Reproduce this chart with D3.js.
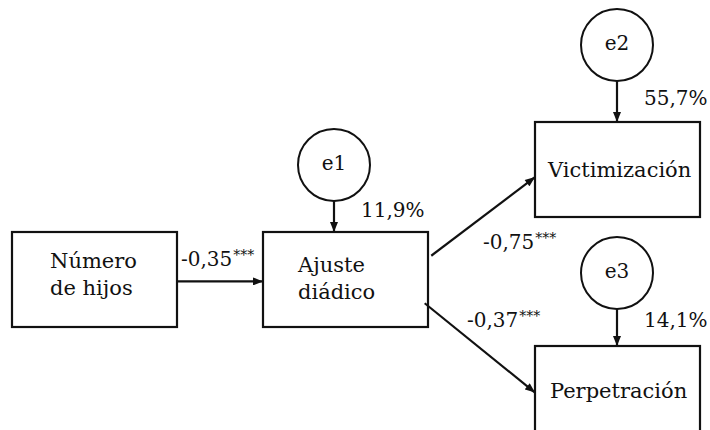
<!DOCTYPE html>
<html>
<head>
<meta charset="utf-8">
<script src="https://cdn.jsdelivr.net/npm/d3@7"></script>
<style>
  body { margin: 0; background: #fff; }
  text { font-family: "DejaVu Serif", serif; fill: #111; }
</style>
</head>
<body>
<div id="chart"></div>
<script>
// observed variables (box label lines)
var variables = ["numero", "ajuste", "victim", "perpet"];
var varLabels = [["Número", "de hijos"], ["Ajuste", "diádico"], ["Victimización"], ["Perpetración"]];

// structural paths: from, to, standardised coefficient, significance
var pathFrom = ["numero", "ajuste", "ajuste"];
var pathTo = ["ajuste", "victim", "perpet"];
var pathCoef = ["-0,35", "-0,75", "-0,37"];
var pathSig = ["***", "***", "***"];

// error terms and explained variance
var errors = ["e1", "e2", "e3"];
var errorTarget = ["ajuste", "victim", "perpet"];
var r2 = ["11,9%", "55,7%", "14,1%"];

var width = 710, height = 430;

// layout grid (column / row units) mapped through scales
var layout = {
  numero: {col: 0, row: 1},
  ajuste: {col: 1, row: 1},
  victim: {col: 2, row: 0},
  perpet: {col: 2, row: 2}
};
var x = d3.scaleLinear().domain([0, 1, 2]).range([12, 263, 535]);
var y = d3.scaleLinear().domain([0, 1, 2]).range([122, 232, 346]);
var boxW = 165, boxH = 95, errR = 36;

var svg = d3.select("#chart").append("svg").attr("width", width).attr("height", height);

svg.append("defs").append("marker")
  .attr("id", "arrow")
  .attr("viewBox", "0 0 10 8")
  .attr("refX", 10).attr("refY", 4)
  .attr("markerWidth", 11).attr("markerHeight", 8)
  .attr("markerUnits", "userSpaceOnUse")
  .attr("orient", "auto")
  .append("path").attr("d", "M0,0L10,4L0,8Z").attr("fill", "#111");

function box(id) {
  var l = layout[id];
  return {x: x(l.col), y: y(l.row), w: boxW, h: boxH};
}

// boxes
var nodes = svg.selectAll(".node").data(variables).enter().append("g").attr("class", "node");
nodes.append("rect")
  .attr("x", function(d) { return box(d).x; })
  .attr("y", function(d) { return box(d).y; })
  .attr("width", boxW).attr("height", boxH)
  .attr("fill", "#fff").attr("stroke", "#111").attr("stroke-width", 2.2);

var textOff = {numero: [38, 36], ajuste: [35, 40], victim: [13, 55], perpet: [15, 52]};
nodes.each(function(d, i) {
  var b = box(d), g = d3.select(this), lines = varLabels[i];
  lines.forEach(function(t, j) {
    g.append("text")
      .attr("x", b.x + textOff[d][0])
      .attr("y", b.y + textOff[d][1] + j * 27)
      .attr("font-size", 21)
      .text(t);
  });
});

// paths between boxes
var anchors = {
  "numero-ajuste": [[1, 0.52], [0, 0.52]],
  "ajuste-victim": [[1.02, 0.25], [0, 0.58]],
  "ajuste-perpet": [[0.98, 0.75], [0, 0.49]]
};
var labelPos = [[181, 266], [483, 249], [467, 327]];

pathFrom.forEach(function(f, i) {
  var a = box(f), b = box(pathTo[i]), an = anchors[f + "-" + pathTo[i]];
  svg.append("line")
    .attr("x1", a.x + an[0][0] * a.w).attr("y1", a.y + an[0][1] * a.h)
    .attr("x2", b.x + an[1][0] * b.w).attr("y2", b.y + an[1][1] * b.h)
    .attr("stroke", "#111").attr("stroke-width", 2.2)
    .attr("marker-end", "url(#arrow)");
  var t = svg.append("text")
    .attr("x", labelPos[i][0]).attr("y", labelPos[i][1])
    .attr("font-size", 20);
  t.append("tspan").text(pathCoef[i]);
  t.append("tspan").attr("font-size", 14).attr("dy", -6).attr("dx", 1).text(pathSig[i]);
});

// error terms: horizontal offset on box, distance above box, r2 label offset
var errPos = [[71, 67, 52], [82, 77, 60], [82, 73, 54]];
errors.forEach(function(e, i) {
  var b = box(errorTarget[i]);
  var cx = b.x + errPos[i][0], cy = b.y - errPos[i][1];
  svg.append("circle")
    .attr("cx", cx).attr("cy", cy).attr("r", errR)
    .attr("fill", "#fff").attr("stroke", "#111").attr("stroke-width", 2);
  svg.append("text")
    .attr("x", cx).attr("y", cy + 5)
    .attr("text-anchor", "middle").attr("font-size", 20)
    .text(e);
  svg.append("line")
    .attr("x1", cx).attr("y1", cy + errR)
    .attr("x2", cx).attr("y2", b.y)
    .attr("stroke", "#111").attr("stroke-width", 2.2)
    .attr("marker-end", "url(#arrow)");
  svg.append("text")
    .attr("x", cx + 27).attr("y", cy + errPos[i][2])
    .attr("font-size", 20)
    .text(r2[i]);
});
</script>
</body>
</html>
